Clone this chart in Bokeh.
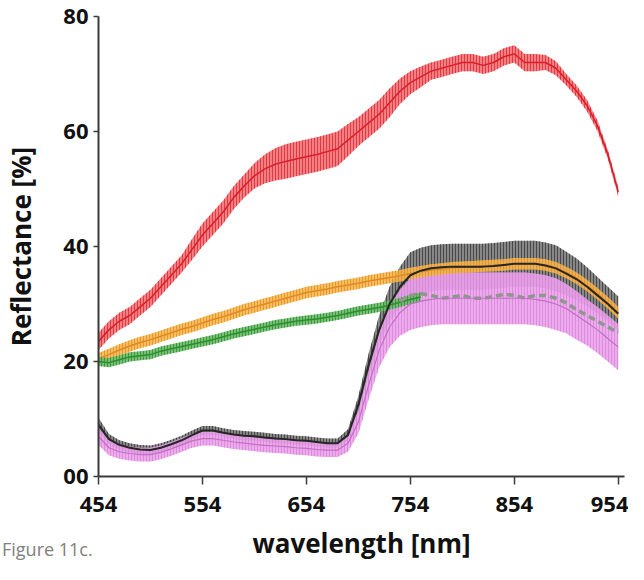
import numpy as np
from bokeh.plotting import figure
from bokeh.models import FixedTicker, Div
from bokeh.layouts import column
from bokeh.embed import file_html
from bokeh.resources import INLINE

wl = list(range(454, 955, 10))

red = [23.5, 25.5, 27, 28, 29.5, 31, 33, 35, 37, 39.5, 42, 44, 46, 48.5, 50.5, 52.3, 53.5, 54.3, 54.8, 55.2,
       55.6, 56, 56.5, 57, 58.5, 60, 61.5, 63, 65, 67, 68.5, 69.5, 70.5, 71, 71.5, 72, 72, 71.5, 72, 73,
       73.5, 72, 72, 72, 71, 69, 67, 64.5, 61, 56, 49.5]
red_err = [1.5, 1.5, 1.5, 1.5, 1.5, 1.5, 1.5, 1.5, 1.5, 1.8, 2, 2, 2, 2, 2, 2.2, 2.5, 2.8, 3, 3,
           3, 3, 3, 3, 2.8, 2.5, 2.5, 2.5, 2.5, 2.2, 2, 1.8, 1.5, 1.5, 1.5, 1.5, 1.5, 1.5, 1.5, 1.5,
           1.5, 1.5, 1.5, 1.3, 1.2, 1, 1, 1, 0.9, 0.8, 0.8]

orange = [20.5, 21.2, 22, 22.7, 23.3, 23.8, 24.4, 25, 25.6, 26.1, 26.7, 27.3, 27.8, 28.4, 29, 29.5, 30, 30.5,
          31, 31.5, 32, 32.3, 32.6, 33, 33.3, 33.6, 34, 34.3, 34.6, 34.9, 35.3, 35.6, 35.9, 36.1, 36.3,
          36.4, 36.5, 36.6, 36.7, 36.8, 37, 37, 37, 36.8, 36.3, 35.5, 34.5, 33.2, 31.8, 30.2, 28.5]
orange_err = [1.0] * 51

wl_green = list(range(454, 765, 10))
green = [20, 19.8, 20.3, 20.8, 21, 21.2, 21.8, 22.2, 22.6, 23, 23.4, 23.8, 24.3, 24.8, 25.2, 25.6,
         26, 26.4, 26.7, 27, 27.2, 27.4, 27.7, 28, 28.4, 28.8, 29.1, 29.4, 29.8, 30.3, 30.8, 31.2]
green_err = [0.8] * 32

black = [9, 6.5, 5.5, 5, 4.7, 4.6, 5, 5.6, 6.3, 7.2, 8, 8, 7.6, 7.3, 7.1, 7, 6.8, 6.6, 6.5, 6.3,
         6.2, 6, 5.8, 5.8, 7.2, 12.5, 19.5, 25.5, 30, 33, 35, 35.8, 36.2, 36.4, 36.5, 36.5, 36.5, 36.5,
         36.6, 36.8, 37, 37, 37, 36.7, 36.2, 35.3, 34.3, 33, 31.5, 30, 28.3]
black_err = [1.2, 0.9, 0.8, 0.8, 0.8, 0.8, 0.8, 0.8, 0.8, 0.8, 0.8, 0.8, 0.8, 0.8, 0.8, 0.8, 0.8, 0.8,
             0.8, 0.8, 0.8, 0.8, 0.8, 0.8, 1.0, 1.5, 2, 2.5, 3, 3.5, 4, 4, 4, 4, 4, 4, 4, 4, 4, 4,
             4, 4, 4, 4, 4, 3.8, 3.6, 3.4, 3.2, 3, 3]

pink = [7, 5, 4.3, 4, 3.8, 3.8, 4.2, 4.8, 5.5, 6.2, 6.6, 6.6, 6.3, 6, 5.8, 5.6, 5.4, 5.3, 5.2, 5,
        4.9, 4.7, 4.6, 4.6, 5.8, 9.5, 16, 22, 26, 28.5, 30, 30.5, 30.8, 31, 31, 31, 31, 31, 31, 31,
        31, 31, 30.8, 30.5, 30, 29.2, 28, 26.8, 25.5, 24, 22.5]
pink_err = [1.5, 1.3, 1.2, 1.2, 1.2, 1.2, 1.2, 1.2, 1.2, 1.2, 1.2, 1.2, 1.2, 1.2, 1.2, 1.2, 1.2, 1.2,
            1.2, 1.2, 1.2, 1.2, 1.2, 1.2, 1.5, 2, 2.5, 3, 3.5, 4, 4.5, 4.5, 4.5, 4.5, 4.5, 4.5, 4.5,
            4.5, 4.5, 4.5, 4.5, 4.5, 4.5, 4.5, 4.5, 4.3, 4.2, 4, 4, 4, 4]

wl_gray = list(range(744, 955, 10))
gray = [30.5, 31.5, 31.8, 31.5, 31, 31.2, 31.5, 31, 31, 31.3, 31.7, 31.5, 31, 31.5, 31.5, 31,
        30.2, 29, 28, 27, 26, 25]

x_ticks = [454, 554, 654, 754, 854, 954]
y_ticks = [0, 20, 40, 60, 80]
y_labels = {0: "00", 20: "20", 40: "40", 60: "60", 80: "80"}

FONT = "Open Sans"

p = figure(width=628, height=564, output_backend="svg", toolbar_location=None,
           x_range=(454, 960), y_range=(0, 80),
           min_border_left=92, min_border_right=4, min_border_top=16, min_border_bottom=88)
p.outline_line_color = None
p.xgrid.visible = False
p.ygrid.visible = False
p.background_fill_color = "white"


def band(xs, m, e, fill, hatch, alpha=0.85):
    lo = [a - b for a, b in zip(m, e)]
    hi = [a + b for a, b in zip(m, e)]
    p.varea(x=xs, y1=lo, y2=hi, fill_color=fill, fill_alpha=alpha,
            hatch_pattern="vertical_line", hatch_color=hatch, hatch_alpha=0.8,
            hatch_scale=3, hatch_weight=1)


band(wl, red, red_err, "#f0686d", "#dc2a31")
p.line(wl, red, line_color="#d8202a", line_width=1.5)

band(wl, black, black_err, "#7a7a7a", "#3a3a3a", 0.9)
band(wl, pink, pink_err, "#eba2eb", "#d884d8", 0.9)
band(wl, orange, orange_err, "#f5b652", "#e3901f", 0.9)
p.line(wl, orange, line_color="#e08a20", line_width=1.5)
band(wl_green, green, green_err, "#68ba68", "#2f8f2f", 0.9)
p.line(wl_green, green, line_color="#2e8b2e", line_width=1.5)
p.line(wl_gray, gray, line_color="#8e968e", line_width=3.5, line_dash="7 4")
p.line(wl, pink, line_color="#c070c0", line_width=1.2)
p.line(wl, black, line_color="#262626", line_width=2)

for ax in (p.xaxis, p.yaxis):
    ax.axis_line_color = "#3a3a3a"
    ax.axis_line_width = 2
    ax.major_tick_line_color = "#3a3a3a"
    ax.major_tick_line_width = 1.5
    ax.minor_tick_line_color = None
    ax.major_tick_in = 0
    ax.major_label_text_font = FONT
    ax.major_label_text_font_style = "bold"
    ax.major_label_text_font_size = "22px"
    ax.major_label_text_color = "#111111"
    ax.axis_label_text_font = FONT
    ax.axis_label_text_font_style = "bold"
    ax.axis_label_text_font_size = "26px"
    ax.axis_label_text_color = "#111111"

p.xaxis.ticker = FixedTicker(ticks=x_ticks)
p.yaxis.ticker = FixedTicker(ticks=y_ticks)
p.yaxis.major_label_overrides = y_labels
p.xaxis.major_tick_out = 8
p.yaxis.major_tick_out = 5
p.xaxis.major_label_standoff = 12
p.yaxis.major_label_standoff = 5
p.xaxis.axis_label = "wavelength [nm]"
p.yaxis.axis_label = "Reflectance [%]"
p.xaxis.axis_label_standoff = 10
p.yaxis.axis_label_standoff = 21

caption = Div(text="Figure 11c.", width=120, height=22, margin=(-26, 0, 0, 2),
              styles={"font-family": FONT, "font-size": "18px", "color": "#808080",
                      "line-height": "22px", "white-space": "nowrap"})

layout = column(p, caption)
open("out.html", "w").write(file_html(layout, INLINE))
